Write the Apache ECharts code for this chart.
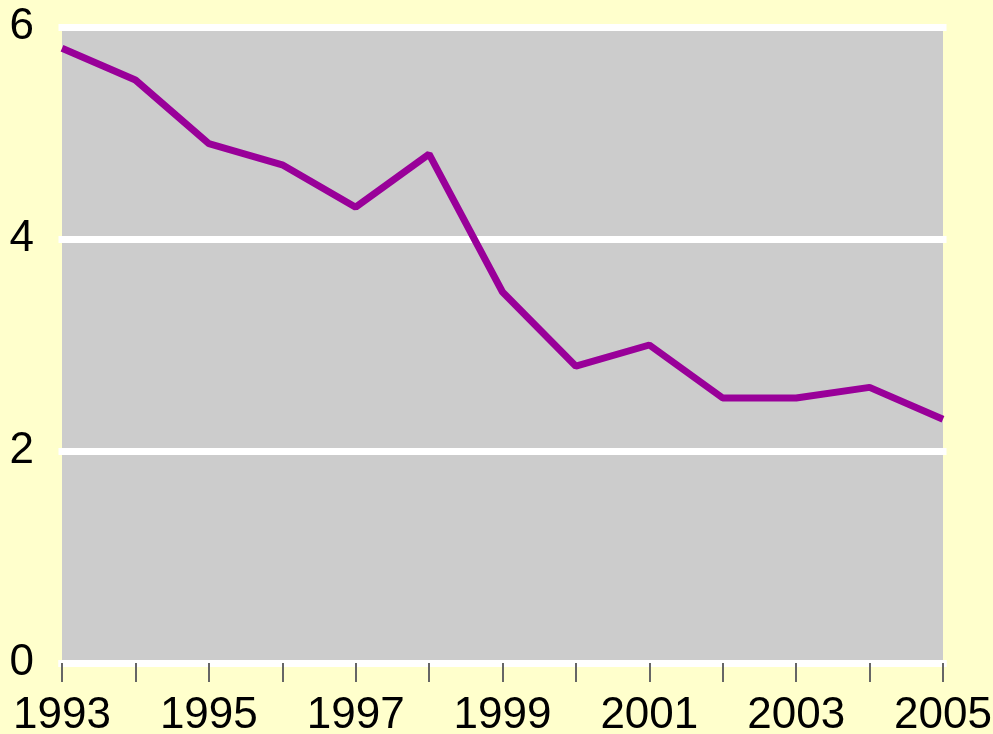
<!DOCTYPE html>
<html>
<head>
<meta charset="utf-8">
<script src="https://cdn.jsdelivr.net/npm/echarts@6/dist/echarts.min.js"></script>
<style>
  html, body { margin: 0; padding: 0; background: #ffffcc; }
  #main { width: 993px; height: 734px; }
</style>
</head>
<body>
<div id="main"></div>
<script>
var years = ["1993", "1994", "1995", "1996", "1997", "1998", "1999", "2000", "2001", "2002", "2003", "2004", "2005"]
var values = [5.8, 5.5, 4.9, 4.7, 4.3, 4.8, 3.5, 2.8, 3.0, 2.5, 2.5, 2.6, 2.3]
var yTicks = [0, 2, 4, 6]

var myChart = echarts.init(document.getElementById("main"))
var option = {
  backgroundColor: "#ffffcc",
  animation: false,
  textStyle: { fontFamily: "Liberation Sans" },
  grid: {
    left: 62,
    right: 50,
    top: 27,
    bottom: 71,
    outerBoundsMode: "none",
    containLabel: false,
    show: true,
    backgroundColor: "#cccccc",
    borderWidth: 0
  },
  xAxis: {
    type: "category",
    boundaryGap: false,
    data: years,
    axisLine: { lineStyle: { color: "#ffffff", width: 7, cap: "square" } },
    axisTick: { interval: 0, length: 19, lineStyle: { color: "#666666", width: 2 } },
    axisLabel: {
      interval: 1,
      fontSize: 44,
      color: "#000000",
      margin: 31,
      showMaxLabel: true
    },
    splitLine: { show: false }
  },
  yAxis: {
    type: "value",
    min: yTicks[0],
    max: yTicks[yTicks.length - 1],
    interval: 2,
    axisLine: { show: false },
    axisTick: { show: false },
    axisLabel: { fontSize: 44, color: "#000000", margin: 28 },
    splitLine: { lineStyle: { color: "#ffffff", width: 7, cap: "square" } }
  },
  series: [
    {
      type: "line",
      data: values,
      showSymbol: false,
      symbol: "none",
      lineStyle: { color: "#990099", width: 7 },
      z: 3
    }
  ]
}
option && myChart.setOption(option)
</script>
</body>
</html>
